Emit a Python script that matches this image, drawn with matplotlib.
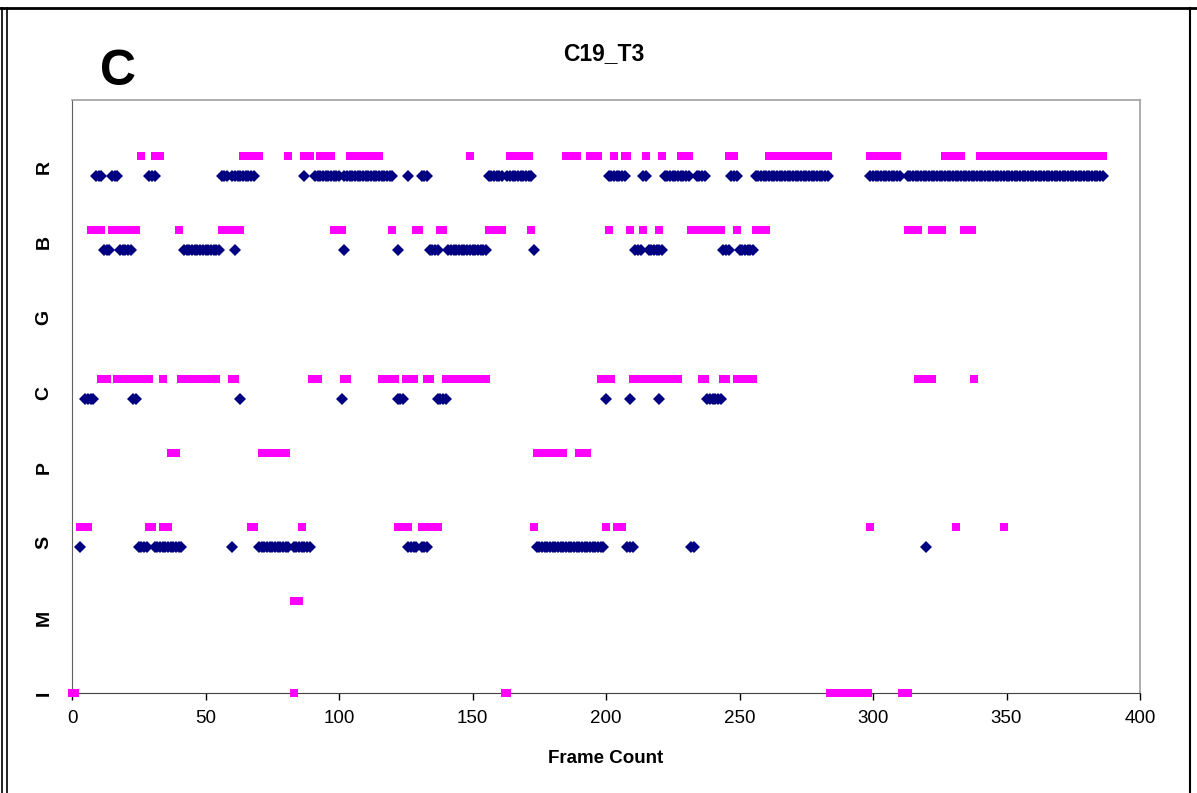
import matplotlib
matplotlib.use("Agg")
import matplotlib.pyplot as plt
from matplotlib.lines import Line2D

plt.rcParams["font.family"] = ["Liberation Sans", "DejaVu Sans"]

# y categories, bottom to top
categories = ["I", "M", "S", "P", "C", "G", "B", "R"]

# runs of consecutive frames (start, end)
pink_runs = {
    "R": [(26, 26), (31, 33), (64, 70), (81, 81), (87, 89), (93, 97), (104, 115), (149, 149),
          (164, 171), (185, 189), (194, 197), (203, 203), (207, 208), (215, 215), (221, 221),
          (228, 231), (246, 248), (261, 283), (299, 309), (327, 333), (340, 386)],
    "B": [(7, 11), (15, 24), (40, 40), (56, 63), (98, 101), (120, 120), (129, 130), (138, 139),
          (156, 161), (172, 172), (201, 201), (209, 209), (214, 214), (220, 220), (232, 243),
          (249, 249), (256, 260), (313, 317), (322, 326), (334, 337)],
    "G": [],
    "C": [(11, 13), (17, 29), (34, 34), (41, 54), (60, 61), (90, 92), (102, 103), (116, 121),
          (125, 128), (133, 134), (140, 155), (198, 202), (210, 227), (236, 237), (244, 245),
          (249, 255), (317, 322), (338, 338)],
    "P": [(37, 39), (71, 80), (174, 184), (190, 193)],
    "S": [(3, 6), (29, 30), (34, 36), (67, 68), (86, 86), (122, 126), (131, 137), (173, 173),
          (200, 200), (204, 206), (299, 299), (331, 331), (349, 349)],
    "M": [(83, 85)],
    "I": [(0, 1), (83, 83), (162, 163), (284, 298), (311, 313)],
}
blue_runs = {
    "R": [(9, 11), (15, 17), (29, 31), (56, 58), (60, 68), (87, 87), (91, 100), (102, 120),
          (126, 126), (131, 133), (156, 161), (163, 172), (201, 207), (214, 215), (222, 231),
          (234, 237), (247, 249), (256, 283), (299, 310), (313, 386)],
    "B": [(12, 14), (18, 22), (42, 55), (61, 61), (102, 102), (122, 122), (134, 137), (141, 155),
          (173, 173), (211, 213), (216, 221), (244, 246), (250, 255)],
    "G": [],
    "C": [(5, 8), (23, 24), (63, 63), (101, 101), (122, 124), (137, 140), (200, 200), (209, 209),
          (220, 220), (238, 243)],
    "P": [],
    "S": [(3, 3), (25, 28), (31, 41), (60, 60), (70, 81), (83, 89), (126, 129), (131, 133),
          (174, 199), (208, 210), (232, 233), (320, 320)],
    "M": [],
    "I": [],
}
pink_offset = {"I": 0.0}  # others sit a bit above the category line
x_ticks = [0, 50, 100, 150, 200, 250, 300, 350, 400]


def expand(runs):
    frames = []
    for a, b in runs:
        frames.extend(range(a, b + 1))
    return frames


fig = plt.figure(figsize=(11.97, 7.93), dpi=100)
ax = fig.add_axes([72 / 1197, 100 / 793, (1140 - 72) / 1197, (693 - 100) / 793])

for lvl, cat in enumerate(categories):
    px = expand(pink_runs[cat])
    if px:
        y = lvl + pink_offset.get(cat, 0.24)
        ax.plot(px, [y] * len(px), ls="none", marker="s", ms=6.3, mew=0,
                color="#FF00FF", clip_on=False, zorder=3)
    bx = expand(blue_runs[cat])
    if bx:
        y = lvl - 0.03
        ax.plot(bx, [y] * len(bx), ls="none", marker="D", ms=5.8, mew=0,
                color="#000080", clip_on=False, zorder=3)

ax.set_xlim(0, 400)
ax.set_ylim(0, 8)
ax.set_xticks(x_ticks)
ax.set_yticks([i * 1.013 for i in range(len(categories))])
ax.set_yticklabels(categories, rotation=90, va="center", fontweight="bold", fontsize=14)
ax.tick_params(axis="x", direction="out", length=5, width=1, labelsize=13.5, pad=7, colors="black")
ax.tick_params(axis="y", length=0, pad=14)
ax.set_xlabel("Frame Count", fontweight="bold", fontsize=13.5, labelpad=17)

for side in ("top", "right"):
    ax.spines[side].set_color("#a0a0a0")
    ax.spines[side].set_linewidth(1.2)
ax.spines["left"].set_color("#606060")
ax.spines["bottom"].set_color("#404040")

fig.text(604 / 1197, 1 - 54 / 793, "C19_T3", ha="center", va="center",
         fontweight="bold", fontsize=16.5)
fig.text(118 / 1197, 1 - 72 / 793, "C", ha="center", va="center",
         fontweight="bold", fontsize=36)

# outer frame of the cropped figure
fig.add_artist(Line2D([0, 1], [1 - 8 / 793] * 2, transform=fig.transFigure, color="black", lw=2))
fig.add_artist(Line2D([2 / 1197] * 2, [0, 1 - 8 / 793], transform=fig.transFigure, color="black", lw=1.2))
fig.add_artist(Line2D([7 / 1197] * 2, [0, 1 - 8 / 793], transform=fig.transFigure, color="black", lw=1.2))
fig.add_artist(Line2D([1190 / 1197] * 2, [0, 1 - 8 / 793], transform=fig.transFigure, color="black", lw=1.5))

fig.savefig("out.png", dpi=100)
